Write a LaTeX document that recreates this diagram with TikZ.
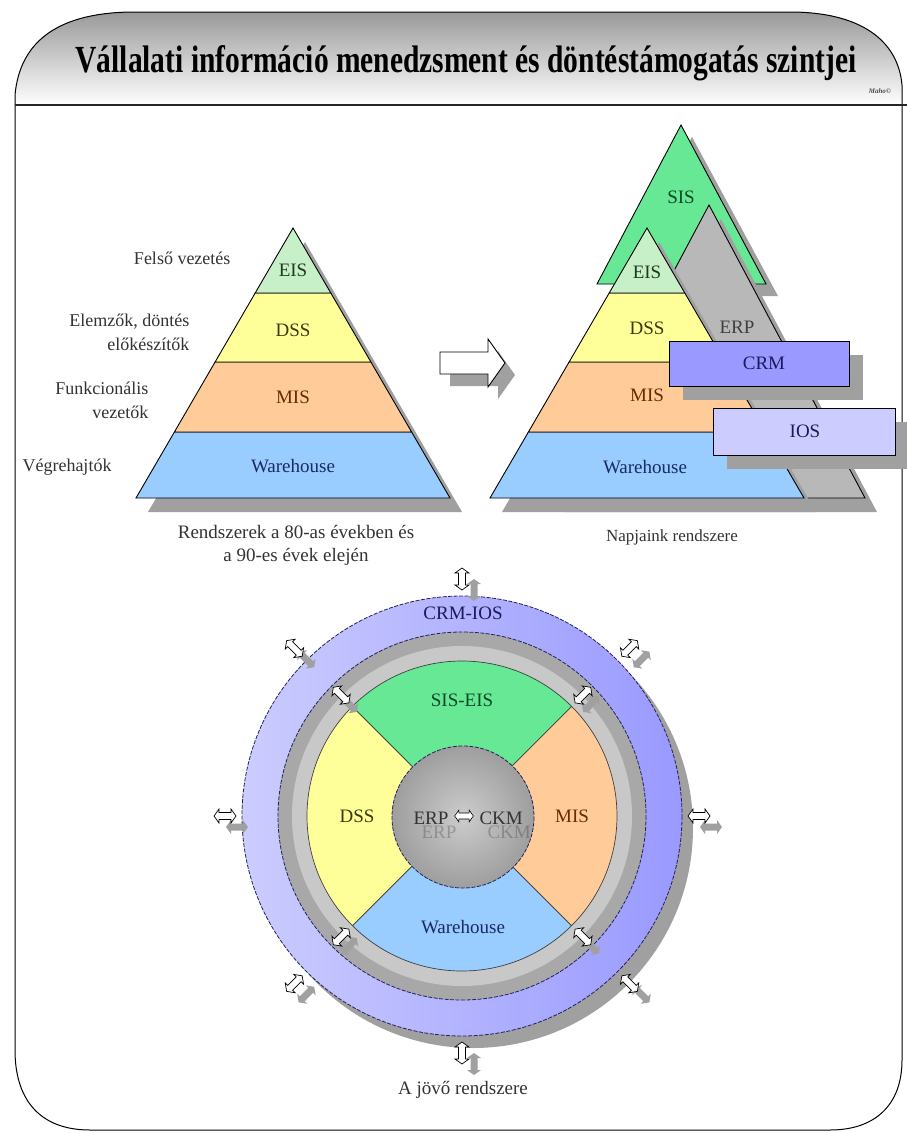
\documentclass[tikz,border=0pt]{standalone}
\usepackage{fontspec}
\setmainfont{Liberation Serif}
\usetikzlibrary{calc}
\definecolor{eisc}{HTML}{C8F0C8}
\definecolor{dssc}{HTML}{FFFF99}
\definecolor{misc}{HTML}{FFCC99}
\definecolor{whc}{HTML}{99CCFF}
\definecolor{sisc}{HTML}{66E895}
\definecolor{erpc}{HTML}{B8B8B8}
\definecolor{crmc}{HTML}{9999FF}
\definecolor{iosc}{HTML}{CCCCFF}
\definecolor{shc}{HTML}{A0A0A0}
\definecolor{ringline}{HTML}{22225A}
\definecolor{txtgray}{HTML}{333333}
\definecolor{txteis}{HTML}{1E3A1E}
\definecolor{txtdss}{HTML}{3A3A10}
\definecolor{txtmis}{HTML}{6A2A00}
\definecolor{txtwh}{HTML}{1A2A66}
\definecolor{txtsis}{HTML}{0A4A25}
\definecolor{txtnavy}{HTML}{1A1A5E}
\definecolor{ringdark}{HTML}{A8A8A8}
\definecolor{ringlight}{HTML}{C8C8C8}
\tikzset{
 band/.style={draw=black, line width=0.9pt},
 plab/.style={font=\fontsize{19}{21}\selectfont},
 side/.style={font=\fontsize{18}{24}\selectfont, text=txtgray, align=right},
 captext/.style={font=\fontsize{19}{23}\selectfont, text=txtgray, align=center},
 ringedge/.style={draw=ringline, line width=0.8pt, dash pattern=on 4pt off 1.5pt},
 wedge/.style={draw=black!75, line width=0.7pt},
 pics/dbl/.style={code={\path[pic actions] (-11,0) -- (-6,-7) -- (-6,-3.5) -- (6,-3.5) -- (6,-7) -- (11,0) -- (6,7) -- (6,3.5) -- (-6,3.5) -- (-6,7) -- cycle;}},
}
\newcommand\pyrbands[1]{%
 \fill[shc] ({#1+12},242) -- ({#1+12+157},512) -- ({#1+12-157},512) -- cycle;
 \filldraw[band, fill=whc] ({#1-118.6},432) -- ({#1+118.6},432) -- ({#1+157},498) -- ({#1-157},498) -- cycle;
 \filldraw[band, fill=misc] ({#1-77.9},362) -- ({#1+77.9},362) -- ({#1+118.6},432) -- ({#1-118.6},432) -- cycle;
 \filldraw[band, fill=dssc] ({#1-37.8},293) -- ({#1+37.8},293) -- ({#1+77.9},362) -- ({#1-77.9},362) -- cycle;
 \filldraw[band, fill=eisc] (#1,228) -- ({#1+37.8},293) -- ({#1-37.8},293) -- cycle;
}
\begin{document}
\begin{tikzpicture}[x=1pt,y=-1pt]
\useasboundingbox (0,0) rectangle (907,1133);
\fill[white] (0,0) rectangle (907,1133);
% frame and header
\draw[line width=1pt] (15,105) -- (15,1050) .. controls (15,1100) and (40,1130) .. (90,1130) -- (830,1130)
 .. controls (875,1130) and (902,1105) .. (902,1060) -- (902,105);
\path[draw=black, line width=1pt, top color=black!40, bottom color=white]
 (15,105) -- (15,95) .. controls (20,40) and (60,12) .. (135,12) -- (790,12)
 .. controls (860,12) and (898,40) .. (902,85) -- (902,105);
\draw[line width=2pt, black!85] (15,105) -- (907,105);
\node[font=\fontsize{29.5}{31}\selectfont\bfseries, anchor=base] (title) at (466,72)
 {\scalebox{1}[1.3]{Vállalati információ menedzsment és döntéstámogatás szintjei}};
\node[font=\fontsize{7}{8}\selectfont\bfseries\itshape, text=black!70] (maho) at (880,91) {Maho©};

% left pyramid
\pyrbands{293}
\node[plab, text=txteis] (leis) at (293,270) {EIS};
\node[plab, text=txtdss] (ldss) at (293,330) {DSS};
\node[plab, text=txtmis] (lmis) at (293,397) {MIS};
\node[plab, text=txtwh] (lwh) at (293,466) {Warehouse};
\node[side, anchor=east] (felso) at (234,258) {Felső vezetés};
\node[side, anchor=east] (elemz) at (193,332) {Elemzők, döntés\\előkészítők};
\node[side, anchor=east] (funk) at (152,400) {Funkcionális\\vezetők};
\node[side, anchor=west] (vegre) at (19,467) {Végrehajtók};
\node[captext] (cap1) at (296,545) {Rendszerek a 80-as években és\\a 90-es évek elején};

% block arrow
\fill[shc] (450,364) -- (498,364) -- (498,351) -- (515,375) -- (498,399) -- (498,386) -- (450,386) -- cycle;
\filldraw[draw=black, line width=0.9pt, fill=white] (440,352) -- (488,352) -- (488,339) -- (505,363) -- (488,387) -- (488,374) -- (440,374) -- cycle;

% right pyramid
\fill[shc] (692,137) -- (778,296) -- (609,296) -- cycle;
\filldraw[band, fill=sisc] (681,125) -- (766,284) -- (597,284) -- cycle;
\fill[shc] (721,219) -- (877,512) -- (565,512) -- cycle;
\filldraw[band, fill=erpc] (709,205) -- (865,498) -- (553,498) -- cycle;
\pyrbands{647}
\fill[shc] (683,355) rectangle (863,400);
\filldraw[band, fill=crmc] (669,341) rectangle (849,386);
\fill[shc] (727,422) rectangle (909,469);
\filldraw[band, fill=iosc] (713,408) rectangle (895,455);
\node[plab, text=txtsis] (rsis) at (681,197) {SIS};
\node[plab, text=txteis] (reis) at (647,272) {EIS};
\node[plab, text=txtdss] (rdss) at (647,328) {DSS};
\node[plab, text=black!75] (rerp) at (737,327) {ERP};
\node[plab, text=txtmis] (rmis) at (647,395) {MIS};
\node[plab, text=txtwh] (rwh) at (645,467) {Warehouse};
\node[plab, text=txtnavy] (rcrm) at (764,363) {CRM};
\node[plab, text=txtnavy] (rios) at (805,431) {IOS};
\node[captext, font=\fontsize{17}{21}\selectfont] (cap2) at (672,537) {Napjaink rendszere};

% circle
\coordinate (C) at (462,816);
\fill[shc] ($(C)+(11,12)$) circle[radius=220];
\path[ringedge, left color=iosc, right color=crmc] (C) circle[radius=220];
\filldraw[ringedge, fill=ringdark] (C) circle[radius=184];
\fill[ringlight] (C) circle[radius=170];
\filldraw[wedge, fill=whc] (C) -- ++(45:155) arc[start angle=45, end angle=135, radius=155] -- cycle;
\filldraw[wedge, fill=dssc] (C) -- ++(135:155) arc[start angle=135, end angle=225, radius=155] -- cycle;
\filldraw[wedge, fill=sisc] (C) -- ++(225:155) arc[start angle=225, end angle=315, radius=155] -- cycle;
\filldraw[wedge, fill=misc] (C) -- ++(-45:155) arc[start angle=-45, end angle=45, radius=155] -- cycle;
\path[ringedge, inner color=black!20, outer color=black!38] ($(C)+(1,1)$) circle[radius=71];
\node[plab, text=txtnavy] (crmios) at (463,613) {CRM-IOS};
\node[plab, text=txtsis] (siseis) at (462,700) {SIS-EIS};
\node[plab, text=txtdss] (cdss) at (357,816) {DSS};
\node[plab, text=txtmis] (cmis) at (572,816) {MIS};
\node[plab, text=txtwh] (cwh) at (463,927) {Warehouse};
\node[plab, text=black, opacity=0.22, anchor=east] (erps) at (460,832) {ERP};
\node[plab, text=black, opacity=0.22, anchor=west] (ckms) at (484,832) {CKM};
\node[plab, text=black!80, anchor=east] (erp) at (452,818) {ERP};
\node[plab, text=black!80, anchor=west] (ckm) at (476,818) {CKM};
\pic[draw=black, fill=white, line width=0.6pt, scale=0.85] at (464,816) {dbl};
\foreach \a in {0,45,...,315} {
 \pic[fill=shc, rotate=-\a] at ($(C)+(\a:237)+(12,11)$) {dbl};
 \pic[draw=black, fill=white, line width=0.7pt, rotate=-\a] at ($(C)+(\a:237)$) {dbl};
}
\foreach \a in {45,135,225,315} {
 \pic[fill=shc, rotate=-\a] at ($(C)+(\a:171)+(8,9)$) {dbl};
 \pic[draw=black, fill=white, line width=0.7pt, rotate=-\a] at ($(C)+(\a:171)$) {dbl};
}
\node[captext] (cap3) at (463,1090) {A jövő rendszere};
\end{tikzpicture}
\end{document}
